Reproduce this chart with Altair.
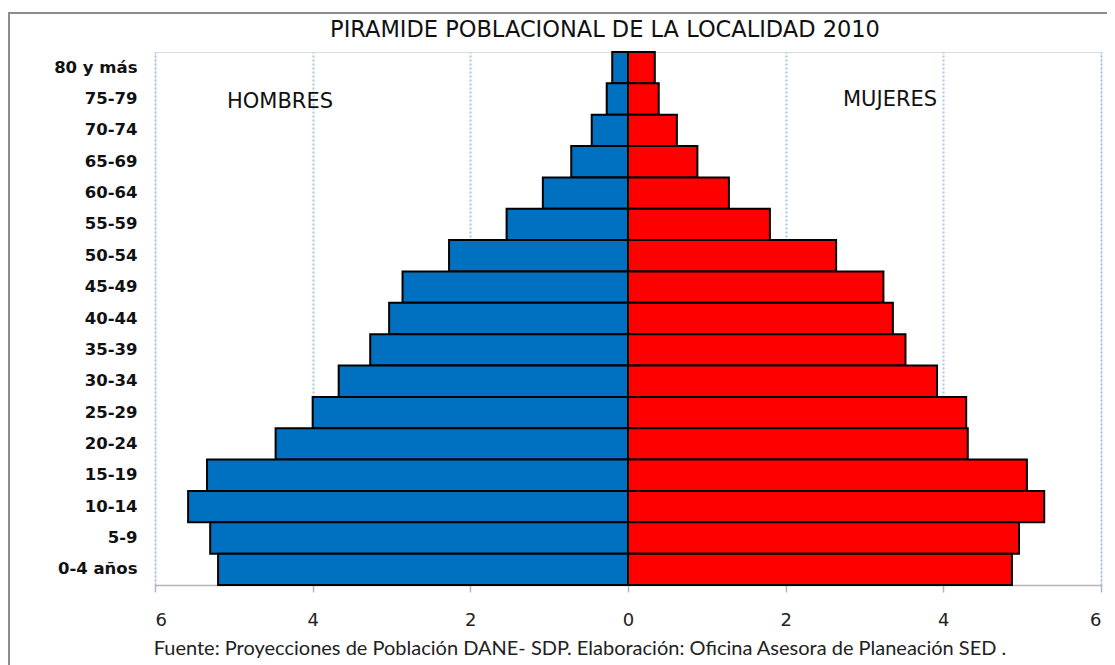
import altair as alt
import pandas as pd

ages = ["80 y más", "75-79", "70-74", "65-69", "60-64", "55-59", "50-54", "45-49",
        "40-44", "35-39", "30-34", "25-29", "20-24", "15-19", "10-14", "5-9", "0-4 años"]
hombres = [0.20, 0.27, 0.46, 0.72, 1.08, 1.54, 2.27, 2.86, 3.03, 3.27, 3.67, 4.00,
           4.47, 5.34, 5.58, 5.30, 5.20]
mujeres = [0.34, 0.39, 0.62, 0.88, 1.28, 1.80, 2.64, 3.24, 3.36, 3.52, 3.92, 4.29,
           4.31, 5.06, 5.28, 4.96, 4.87]
x_ticks = [-6, -4, -2, 0, 2, 4, 6]

titulo = "PIRAMIDE POBLACIONAL DE LA LOCALIDAD 2010"
fuente = "Fuente: Proyecciones de Población DANE- SDP. Elaboración: Oficina Asesora de Planeación SED ."

rows = []
for a, h, m in zip(ages, hombres, mujeres):
    rows.append({"edad": a, "sexo": "Hombres", "valor": -h})
    rows.append({"edad": a, "sexo": "Mujeres", "valor": m})
df = pd.DataFrame(rows)

W, H = 946, 533
dv = "DejaVu Sans"

bars = alt.Chart(df).mark_bar(stroke="black", strokeWidth=2).encode(
    y=alt.Y("edad:N", sort=ages, title=None,
            scale=alt.Scale(paddingInner=0, paddingOuter=0),
            axis=alt.Axis(domain=False, ticks=False, labelPadding=18,
                          labelFont=dv, labelFontSize=16.5, labelFontWeight="bold",
                          labelColor="#111111")),
    x=alt.X("valor:Q", title=None,
            scale=alt.Scale(domain=[-6, 6], nice=False),
            axis=alt.Axis(values=x_ticks, labelExpr="abs(datum.value)",
                          grid=True, gridColor="#a9c3ee", gridDash=[2, 2], gridWidth=2,
                          domainColor="#b5b5b5", domainWidth=1.5,
                          tickColor="#b5b5b5", tickSize=7, tickWidth=1.5,
                          labelFont=dv, labelFontSize=18, labelColor="#222222",
                          labelPadding=19)),
    color=alt.Color("sexo:N", scale=alt.Scale(domain=["Hombres", "Mujeres"],
                                              range=["#0070c0", "#ff0000"]),
                    legend=None),
)

box = alt.Chart(pd.DataFrame({"k": [0]})).mark_rect(
    fill=None, stroke="#8c8c8c", strokeWidth=2
).encode(x=alt.value(-146), y=alt.value(-39), x2=alt.value(1200), y2=alt.value(800))

def label(txt, px, py, size, align="center", font=dv, weight="normal", color="#111111",
          baseline="middle"):
    return alt.Chart(pd.DataFrame({"t": [txt]})).mark_text(
        align=align, baseline=baseline, fontSize=size, font=font,
        fontWeight=weight, color=color
    ).encode(x=alt.value(px), y=alt.value(py), text="t:N")

title_t = label(titulo, 450, -22, 22.5)
hombres_t = label("HOMBRES", 72, 49.5, 21, align="left")
mujeres_t = label("MUJERES", 688, 48, 21, align="left")
fuente_t = label(fuente, 425, 603, 20, font="Lato", color="#222222", baseline="alphabetic")

chart = alt.layer(box, bars, title_t, hombres_t, mujeres_t, fuente_t).properties(
    width=W, height=H,
    autosize=alt.AutoSizeParams(type="none"),
    padding={"left": 147, "top": 44, "right": 6, "bottom": 80},
).configure_view(strokeWidth=0).configure(background="white")

chart.save("out.html", embed_options={"renderer": "svg", "actions": False})
